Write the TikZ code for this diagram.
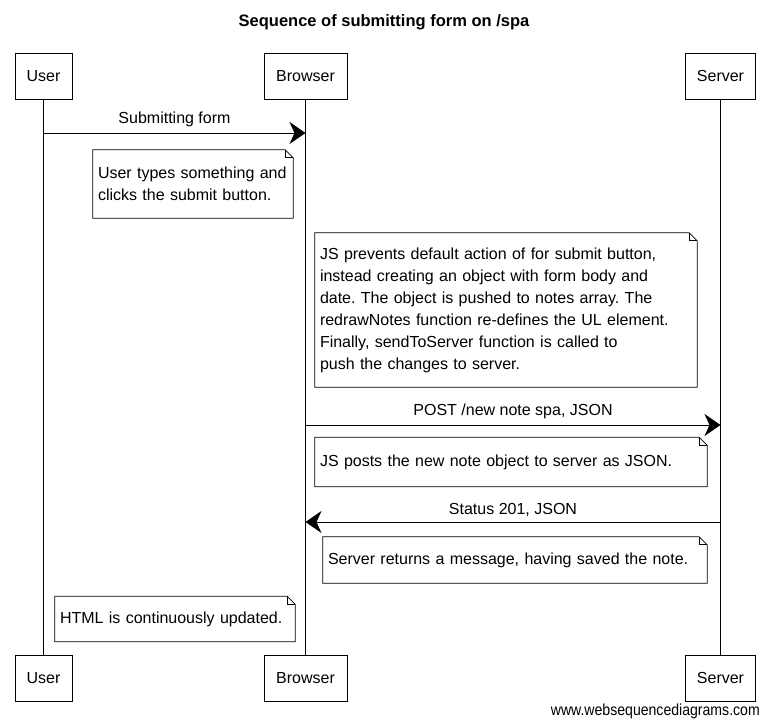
\documentclass[tikz,border=0pt]{standalone}
\usepackage{fontspec}
\setmainfont{Liberation Sans}
\newfontfamily\footfont[FakeStretch=0.88]{Liberation Sans}
\usetikzlibrary{arrows.meta}
\frenchspacing

\begin{document}
\begin{tikzpicture}[
    x=1pt, y=-1pt,
    actor/.style={draw, line width=0.8pt, minimum height=46pt, font=\fontsize{16}{18}\selectfont},
    life/.style={line width=0.7pt},
    notebox/.style={line width=0.8pt},
    note/.style={align=left, inner xsep=5pt, inner ysep=0pt, font=\fontsize{16}{22}\selectfont},
    msg/.style={line width=1pt, -{Stealth[length=16pt, width=22pt, inset=5pt]}},
    lbl/.style={above=2pt, font=\fontsize{16}{18}\selectfont}
]
    \useasboundingbox (0,0) rectangle (768,725);

    % --- title ---
    \node[font=\bfseries\fontsize{16.5}{18}\selectfont] (title) at (384,22) {Sequence of submitting form on /spa};

    % --- actors, top and bottom ---
    \node[actor, minimum width=57pt] (user) at (43.5,76) {User};
    \node[actor, minimum width=83pt] (browser) at (305.5,76) {Browser};
    \node[actor, minimum width=70pt] (server) at (720.5,76) {Server};
    \node[actor, minimum width=57pt] (userb) at (43.5,678) {User};
    \node[actor, minimum width=83pt] (browserb) at (305.5,678) {Browser};
    \node[actor, minimum width=70pt] (serverb) at (720.5,678) {Server};
    \draw[life] (user) -- (userb);
    \draw[life] (browser) -- (browserb);
    \draw[life] (server) -- (serverb);

    % --- messages ---
    \coordinate (m1) at (0,133);
    \coordinate (m2) at (0,425);
    \coordinate (m3) at (0,522);
    \draw[msg] (user |- m1) -- (browser |- m1) node[lbl, midway] {Submitting form};
    \draw[msg] (browser |- m2) -- (server |- m2) node[lbl, midway] {POST /new note spa, JSON};
    \draw[msg] (server |- m3) -- (browser |- m3) node[lbl, midway] {Status 201, JSON};

    % --- notes ---
    \node[note, text width=190pt, minimum height=68pt] (n1) at (193,184)
        {User types something and\\clicks the submit button.};
    \node[note, text width=372pt, minimum height=154pt] (n2) at (506,310)
        {JS prevents default action of for submit button,\\
         instead creating an object with form body and\\
         date. The object is pushed to notes array. The\\
         redrawNotes function re-defines the UL element.\\
         Finally, sendToServer function is called to\\
         push the changes to server.};
    \node[note, text width=382pt, minimum height=49pt] (n3) at (511,462)
        {JS posts the new note object to server as JSON.};
    \node[note, text width=374pt, minimum height=46pt] (n4) at (515,560)
        {Server returns a message, having saved the note.};
    \node[note, text width=230pt, minimum height=45pt] (n5) at (175,619)
        {HTML is continuously updated.};
    \foreach \n in {n1,n2,n3,n4,n5} {
        \draw[notebox] (\n.south west) -- (\n.north west) -- ([xshift=-8pt]\n.north east)
            -- ([yshift=-8pt]\n.north east) -- (\n.south east) -- cycle;
        \draw[notebox] ([xshift=-8pt]\n.north east) |- ([yshift=-8pt]\n.north east);
    }

    % --- footer ---
    \node[anchor=east, inner sep=0pt, font=\footfont\fontsize{16}{16}\selectfont] (credit) at (760,711) {www.websequencediagrams.com};
\end{tikzpicture}
\end{document}
